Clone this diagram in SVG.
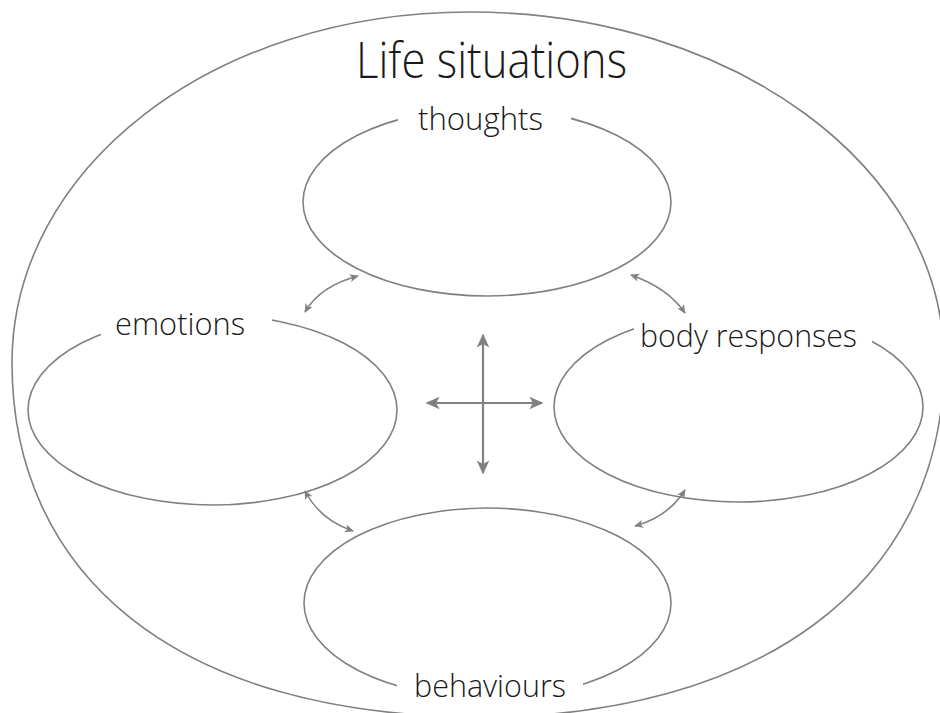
<svg xmlns="http://www.w3.org/2000/svg" width="940" height="713" viewBox="0 0 940 713">
  <style>
    .shape { fill: none; stroke: #808080; stroke-width: 1.6; }
    .mask { fill: #ffffff; stroke: none; }
    .label { font-family: "Open Sans", "Liberation Sans", sans-serif; font-weight: 300; fill: #1a1a1a; }
    .conn { fill: none; stroke: #808080; stroke-width: 1.6; }
    .cross { fill: none; stroke: #808080; stroke-width: 2.2; }
  </style>
  <defs>
    <marker id="ahSmall" viewBox="0 0 10 10" refX="9" refY="5" markerWidth="9" markerHeight="9" markerUnits="userSpaceOnUse" orient="auto-start-reverse">
      <path d="M0,0.5 L10,5 L0,9.5 L2.5,5 z" fill="#808080"/>
    </marker>
    <marker id="ahBig" viewBox="0 0 10 10" refX="9" refY="5" markerWidth="14" markerHeight="14" markerUnits="userSpaceOnUse" orient="auto-start-reverse">
      <path d="M0,0.5 L10,5 L0,9.5 L2.5,5 z" fill="#808080"/>
    </marker>
  </defs>
  <rect width="940" height="713" fill="#ffffff"/>

  <g id="life-situations">
    <path class="shape" d="M470,12 C731,12 944,166 944,362 C944,590 750,717 482,717 C170,717 12,570 12,363 C12,170 210,12 470,12 Z"/>
    <text class="label" x="356" y="78" font-size="50" textLength="271" lengthAdjust="spacingAndGlyphs">Life situations</text>
  </g>

  <g id="thoughts">
    <ellipse class="shape" cx="487" cy="202" rx="184" ry="94"/>
    <rect class="mask" x="398" y="100" width="173" height="40"/>
    <text class="label" x="418" y="130" font-size="32" textLength="125" lengthAdjust="spacingAndGlyphs">thoughts</text>
  </g>

  <g id="emotions">
    <ellipse class="shape" cx="212.5" cy="410" rx="184.5" ry="95"/>
    <rect class="mask" x="101" y="300" width="171" height="45"/>
    <text class="label" x="115" y="335" font-size="32" textLength="130" lengthAdjust="spacingAndGlyphs">emotions</text>
  </g>

  <g id="body-responses">
    <ellipse class="shape" cx="738.5" cy="407" rx="184.5" ry="95"/>
    <rect class="mask" x="634" y="305" width="238" height="45"/>
    <text class="label" x="640" y="347" font-size="32" textLength="217" lengthAdjust="spacingAndGlyphs">body responses</text>
  </g>

  <g id="behaviours">
    <ellipse class="shape" cx="487.5" cy="603" rx="183.5" ry="95"/>
    <rect class="mask" x="397" y="668" width="186" height="33"/>
    <text class="label" x="414" y="697" font-size="32" textLength="152" lengthAdjust="spacingAndGlyphs">behaviours</text>
  </g>

  <g id="connectors">
    <path class="conn" d="M358,276 Q320,286 305,312" marker-start="url(#ahSmall)" marker-end="url(#ahSmall)"/>
    <path class="conn" d="M631,275 Q668,288 685,313" marker-start="url(#ahSmall)" marker-end="url(#ahSmall)"/>
    <path class="conn" d="M305,491 Q320,520 353,531" marker-start="url(#ahSmall)" marker-end="url(#ahSmall)"/>
    <path class="conn" d="M685,490 Q668,517 635,526" marker-start="url(#ahSmall)" marker-end="url(#ahSmall)"/>
    <line class="cross" x1="483" y1="335" x2="483" y2="473" marker-start="url(#ahBig)" marker-end="url(#ahBig)"/>
    <line class="cross" x1="427" y1="403" x2="542" y2="403" marker-start="url(#ahBig)" marker-end="url(#ahBig)"/>
  </g>
</svg>
